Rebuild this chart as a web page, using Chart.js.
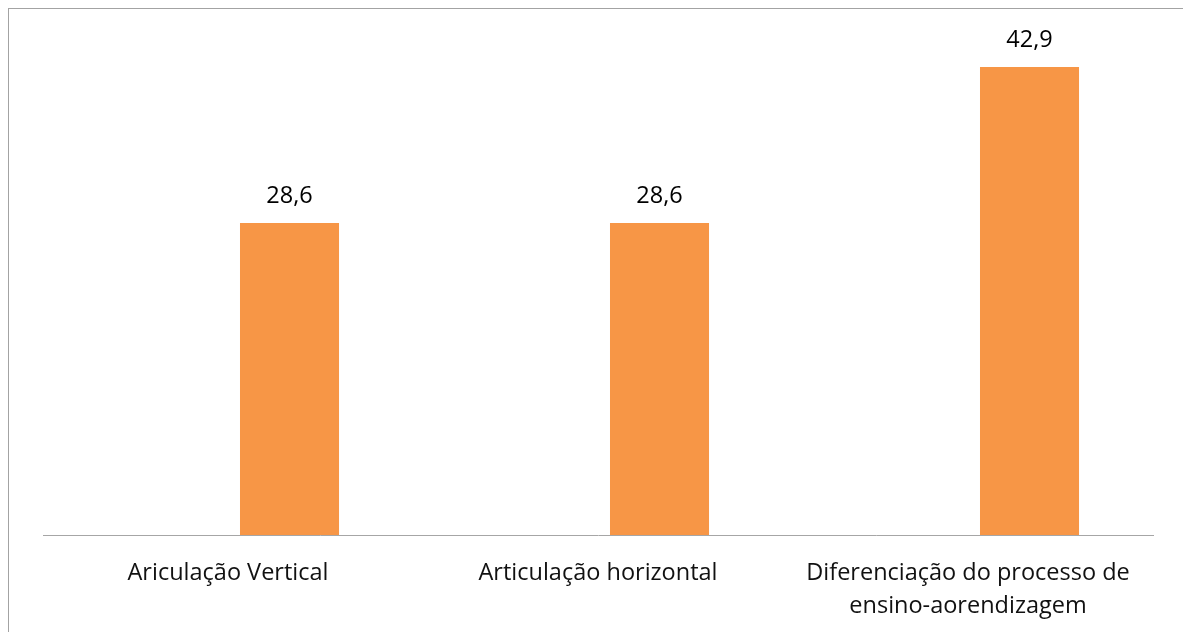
<!DOCTYPE html>
<html>
<head>
<meta charset="utf-8">
<script src="https://cdn.jsdelivr.net/npm/chart.js@4.4.0/dist/chart.umd.min.js"></script>
<style>
  html, body { margin: 0; padding: 0; background: #fff; overflow: hidden; }
  #wrap { position: relative; width: 1183px; height: 632px; }
  #frame { position: absolute; left: 8px; top: 8px; width: 1400px; height: 800px;
           border-left: 1px solid #a3a3a3; border-top: 1px solid #a3a3a3; box-sizing: border-box; }
  canvas { position: absolute; left: 0; top: 0; }
</style>
</head>
<body>
<div id="wrap">
  <div id="frame"></div>
  <canvas id="chart" width="1183" height="632"></canvas>
</div>
<script>
// Categories and values (percentages)
const categories = [
  'Ariculação Vertical',
  'Articulação horizontal',
  ['Diferenciação do processo de', 'ensino-aorendizagem']
];
const emptySeries = [null, null, null];
const values = [28.6, 28.6, 42.9];

const FONT = '"Open Sans", Lato, sans-serif';

// Writes each bar's value above it, with a decimal comma
const valueLabels = {
  id: 'valueLabels',
  afterDatasetsDraw(chart) {
    const { ctx } = chart;
    const meta = chart.getDatasetMeta(1);
    ctx.save();
    ctx.font = '23.5px ' + FONT;
    ctx.fillStyle = '#000';
    ctx.textAlign = 'center';
    ctx.textBaseline = 'alphabetic';
    meta.data.forEach((bar, i) => {
      const v = chart.data.datasets[1].data[i];
      if (v == null) return;
      ctx.fillText(v.toFixed(1).replace('.', ','), bar.x, bar.y - 20);
    });
    ctx.restore();
  }
};

new Chart(document.getElementById('chart'), {
  type: 'bar',
  data: {
    labels: categories,
    datasets: [
      { data: emptySeries, backgroundColor: '#4F81BD' },
      { data: values, backgroundColor: '#F79646' }
    ]
  },
  options: {
    responsive: false,
    animation: false,
    events: [],
    layout: { padding: { left: 43, right: 30, top: 44, bottom: 0 } },
    plugins: { legend: { display: false }, tooltip: { enabled: false } },
    datasets: { bar: { categoryPercentage: 0.665, barPercentage: 0.805 } },
    scales: {
      x: {
        grid: { display: false, drawTicks: false },
        border: { display: true, color: '#a6a6a6', width: 1 },
        ticks: {
          color: '#111',
          font: { family: FONT, size: 23.5, lineHeight: 1.4 },
          padding: 22,
          maxRotation: 0,
          autoSkip: false
        },
        afterFit(scale) { scale.height = 97; }
      },
      y: {
        display: false,
        min: 0,
        max: 45
      }
    }
  },
  plugins: [valueLabels]
});
</script>
</body>
</html>
